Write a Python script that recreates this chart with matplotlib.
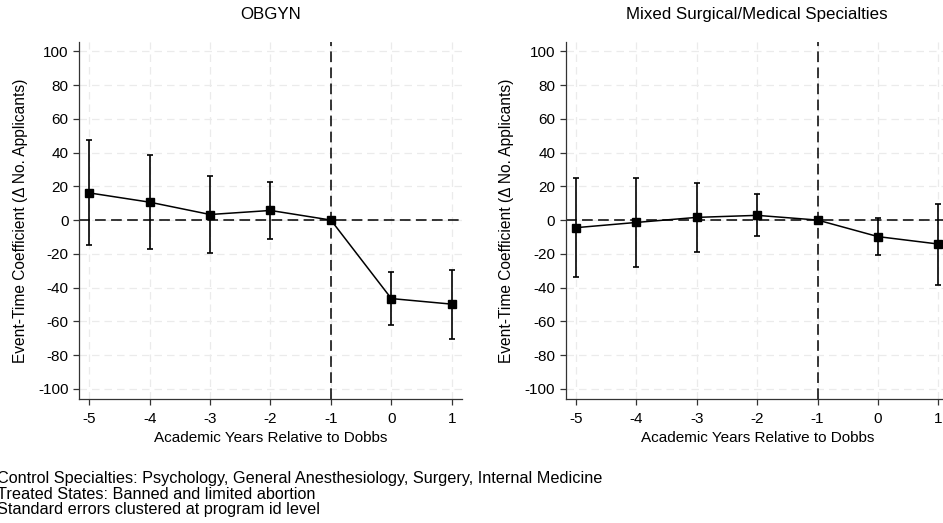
import matplotlib
matplotlib.use("Agg")
import matplotlib.pyplot as plt
import numpy as np

plt.rcParams['font.family'] = ['Liberation Sans', 'DejaVu Sans']
plt.rcParams['axes.unicode_minus'] = False

years = [-5, -4, -3, -2, -1, 0, 1]

obgyn_coef = [16.1, 10.6, 3.3, 5.7, 0.0, -46.5, -49.8]
obgyn_lo = [-15.0, -17.3, -19.3, -11.2, 0.0, -62.0, -70.3]
obgyn_hi = [47.6, 38.8, 26.2, 22.8, 0.0, -30.9, -29.3]

mixed_coef = [-4.5, -1.4, 1.6, 2.8, 0.0, -9.8, -14.2]
mixed_lo = [-34.0, -27.8, -18.9, -9.3, 0.0, -20.7, -38.2]
mixed_hi = [25.2, 24.8, 21.9, 15.2, 0.0, 1.0, 9.8]

titles = ["OBGYN", "Mixed Surgical/Medical Specialties"]
yticks = [100, 80, 60, 40, 20, 0, -20, -40, -60, -80, -100]
footnotes = [
    "Control Specialties: Psychology, General Anesthesiology, Surgery, Internal Medicine",
    "Treated States: Banned and limited abortion",
    "Standard errors clustered at program id level",
]

W, H = 943, 523
fig = plt.figure(figsize=(W / 100, H / 100), dpi=100)

panels = [
    (79, 462, obgyn_coef, obgyn_lo, obgyn_hi),
    (565.7, 948.7, mixed_coef, mixed_lo, mixed_hi),
]
top, bottom = 42, 399
dash = (0, (7, 3.5))

for (x0, x1, coef, lo, hi), title in zip(panels, titles):
    ax = fig.add_axes([x0 / W, 1 - bottom / H, (x1 - x0) / W, (bottom - top) / H])
    ax.set_xlim(-5.17, 1.17)
    ax.set_ylim(-106, 105.5)
    ax.set_yticks(yticks)
    ax.set_xticks(years)
    ax.grid(True, color='#ebebeb', linestyle=(0, (6, 4)), linewidth=0.9)
    ax.set_axisbelow(True)
    ax.axhline(0, color='black', linestyle=dash, linewidth=1.1, zorder=2)
    ax.axvline(-1, color='black', linestyle=dash, linewidth=1.1, zorder=2)
    coef_a = np.array(coef)
    yerr = [coef_a - np.array(lo), np.array(hi) - coef_a]
    ax.errorbar(years, coef, yerr=yerr, fmt='none', ecolor='black',
                elinewidth=1.2, capsize=2.3, capthick=1.2, zorder=3)
    ax.plot(years, coef, color='black', linewidth=1.1, marker='s',
            markersize=5.5, zorder=4)
    for s in ['top', 'right']:
        ax.spines[s].set_visible(False)
    for s in ['left', 'bottom']:
        ax.spines[s].set_color('#333333')
        ax.spines[s].set_linewidth(0.9)
    ax.tick_params(axis='both', direction='out', length=4.3, width=0.9,
                   labelsize=11, colors='#333333', labelcolor='black')
    ax.tick_params(axis='y', pad=3.2)
    ax.tick_params(axis='x', pad=5)
    ax.set_title(title, fontsize=12.2, pad=16.5)
    ax.set_xlabel("Academic Years Relative to Dobbs", fontsize=11, labelpad=3.5)
    ax.set_ylabel("Event-Time Coefficient (\u0394 No. Applicants)", fontsize=11.2, labelpad=7.5)

for i, line in enumerate(footnotes):
    fig.text(-3 / W, 1 - (483 + 15.7 * i) / H, line, fontsize=11.7, ha='left',
             va='baseline')

fig.savefig("out.png", dpi=100)
